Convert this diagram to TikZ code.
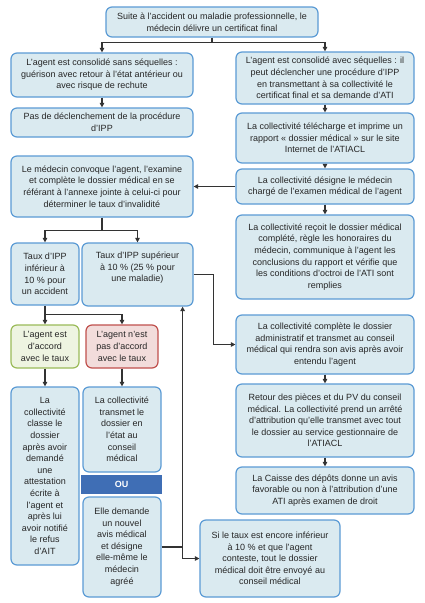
\documentclass[tikz,border=0pt]{standalone}
\usepackage{fontspec}
\setmainfont{Liberation Sans}
\usetikzlibrary{arrows.meta}
\definecolor{bxfill}{HTML}{DAEAF0}
\definecolor{bxborder}{HTML}{5B9BD5}
\definecolor{gfill}{HTML}{EEF4E1}
\definecolor{gborder}{HTML}{9BBB59}
\definecolor{rfill}{HTML}{F2DCDB}
\definecolor{rborder}{HTML}{C0504D}
\definecolor{oublue}{HTML}{3F6EB5}
\definecolor{lncol}{HTML}{333333}
\newcommand\mybox[7][]{%
  \pgfmathsetmacro\bxw{#5-#3}%
  \pgfmathsetmacro\bxh{#6-#4}%
  \pgfmathsetmacro\bxcx{(#3+#5)/2}%
  \pgfmathsetmacro\bxcy{(#4+#6)/2}%
  \node[box,#1,minimum width=\bxw pt,minimum height=\bxh pt] (#2) at (\bxcx,\bxcy) {#7};}
\begin{document}
\begin{tikzpicture}[x=1pt,y=-1pt,
  box/.style={draw=bxborder,fill=bxfill,rounded corners=6pt,line width=1.2pt,
    align=center,inner sep=1pt,font=\fontsize{9}{11.6}\selectfont,text=black!85},
  greenbox/.style={draw=gborder,fill=gfill},
  redbox/.style={draw=rborder,fill=rfill},
  oubox/.style={draw=oublue,fill=oublue,sharp corners,text=white,font=\fontsize{9}{11}\selectfont\bfseries},
  conn/.style={draw=lncol,line width=1.1pt},
  arr/.style={conn,-{Triangle[length=4.5pt,width=4.5pt]}}]
\useasboundingbox[fill=white] (0,0) rectangle (425,603);
\mybox{top}{106}{7}{318}{37}{Suite à l’accident ou maladie professionnelle, le\\médecin délivre un certificat final}
\mybox{L1}{11}{53}{193}{97}{L’agent est consolidé sans séquelles :\\guérison avec retour à l’état antérieur ou\\avec risque de rechute}
\mybox{L2}{11}{108}{193}{137}{Pas de déclenchement de la procédure\\d’IPP}
\mybox{R1}{236}{52}{414}{104}{L’agent est consolidé avec séquelles : il\\peut déclencher une procédure d’IPP\\en transmettant à sa collectivité le\\certificat final et sa demande d’ATI}
\mybox{R2}{236}{113}{414}{163}{La collectivité télécharge et imprime un\\rapport « dossier médical » sur le site\\Internet de l’ATIACL}
\mybox{R3}{236}{169}{414}{204}{La collectivité désigne le médecin\\chargé de l’examen médical de l’agent}
\mybox{R4}{236}{215}{414}{299}{La collectivité reçoit le dossier médical\\complété, règle les honoraires du\\médecin, communique à l’agent les\\conclusions du rapport et vérifie que\\les conditions d’octroi de l’ATI sont\\remplies}
\mybox{Med}{11}{156}{193}{217}{Le médecin convoque l’agent, l’examine\\et complète le dossier médical en se\\référant à l’annexe jointe à celui-ci pour\\déterminer le taux d’invalidité}
\mybox{TInf}{11}{243}{79}{305}{Taux d’IPP\\inférieur à\\10 \% pour\\un accident}
\mybox{TSup}{82}{243}{193}{306}{Taux d’IPP supérieur\\à 10 \% (25 \% pour\\une maladie)\\\strut}
\mybox[greenbox]{Green}{11}{325}{79}{368}{L’agent est\\d’accord\\avec le taux}
\mybox[redbox]{Red}{86}{325}{158}{368}{L’agent n’est\\pas d’accord\\avec le taux}
\mybox{Classe}{11}{387}{79}{565}{La\\collectivité\\classe le\\dossier\\après avoir\\demandé\\une\\attestation\\écrite à\\l’agent et\\après lui\\avoir notifié\\le refus\\d’AIT}
\mybox{Transmet}{83}{387}{161}{472}{La collectivité\\transmet le\\dossier en\\l’état au\\conseil\\médical}
\mybox[oubox]{OU}{82}{476}{161}{493}{OU}
\mybox{Elle}{83}{497}{161}{597}{Elle demande\\un nouvel\\avis médical\\et désigne\\elle-même le\\médecin\\agréé}
\mybox{Compl}{236}{315}{414}{374}{La collectivité complète le dossier\\administratif et transmet au conseil\\médical qui rendra son avis après avoir\\entendu l’agent}
\mybox{Retour}{236}{384}{414}{457}{Retour des pièces et du PV du conseil\\médical. La collectivité prend un arrêté\\d’attribution qu’elle transmet avec tout\\le dossier au service gestionnaire de\\l’ATIACL}
\mybox{Caisse}{236}{467}{414}{514}{La Caisse des dépôts donne un avis\\favorable ou non à l’attribution d’une\\ATI après examen de droit}
\mybox{Si}{200}{520}{340}{597}{Si le taux est encore inférieur\\à 10 \% et que l’agent\\conteste, tout le dossier\\médical doit être envoyé au\\conseil médical}
% connectors
\draw[conn] (top.south) -- ++(0,5) coordinate (tj);
\draw[arr] (tj) -| (L1.north);
\draw[arr] (tj) -| (R1.north);
\draw[arr] (L1.south) -- (L2.north);
\draw[arr] (R1.south) -- (R2.north);
\draw[arr] (R2.south) -- (R3.north);
\draw[arr] (R3.south) -- (R4.north);
\draw[arr] (R3.west) -- (Med.east);
\draw[conn] (Med.south) -- ++(0,13) coordinate (mj);
\draw[arr] (mj) -| (TInf.north);
\draw[arr] (mj) -| (TSup.north);
\draw[conn] (TInf.south) -- ++(0,9) coordinate (gj);
\draw[arr] (gj) -- (Green.north);
\draw[arr] (gj) -| (Red.north);
\draw[arr] (Green.south) -- (Classe.north);
\draw[arr] (Red.south) -- (Transmet.north);
\draw[arr] (TSup.east) -- ++(20,0) |- (Compl.west);
\draw[arr] (Compl.south) -- (Retour.north);
\draw[arr] (Retour.south) -- (Caisse.north);
\draw[conn] (Elle.east) -- ++(21,0) coordinate (ej);
\draw[arr] (ej) -- (ej |- TSup.south);
\draw[arr] (ej) |- (Si.west);
\end{tikzpicture}
\end{document}
